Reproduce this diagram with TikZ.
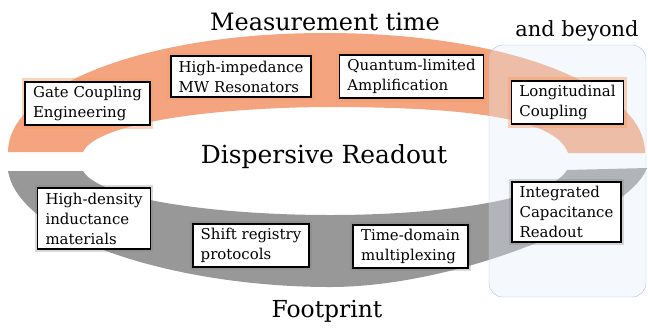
\documentclass[tikz,border=0pt]{standalone}
\usepackage{fontspec}
\setmainfont{DejaVu Serif}
\definecolor{bandorange}{RGB}{244,164,126}
\definecolor{bandgray}{RGB}{152,152,152}
\definecolor{beyondfill}{RGB}{226,236,247}
\definecolor{beyonddraw}{RGB}{180,194,212}
\tikzset{
  topic/.style={draw=black, line width=1.8pt, fill=white, align=left,
    inner xsep=8pt, inner ysep=4.5pt, font=\fontsize{15}{20}\selectfont},
  topglow/.style={topic, preaction={draw=bandorange!80!orange, line width=7pt, opacity=0.45}},
  botglow/.style={topic, preaction={draw=black!50, line width=6pt, opacity=0.3}},
  heading/.style={anchor=base, font=\fontsize{24}{28}\selectfont},
}
\begin{document}
\begin{tikzpicture}[x=1bp,y=-1bp]
 \useasboundingbox (0,0) rectangle (648,329);
 \fill[bandorange](8,152) .. controls (8,130) and (23,105) .. (72,80) .. controls (132,50) and (222,33) .. (325,33) .. controls (430,33) and (520,50) .. (580,80) .. controls (630,105) and (645,130) .. (645,153) -- (568,153) .. controls (555,115) and (450,107) .. (325,107) .. controls (200,108) and (95,125) .. (83,152) -- cycle;
 \fill[bandgray](8,171) -- (83,171) .. controls (100,200) and (220,215) .. (330,215) .. controls (440,215) and (550,200) .. (567,170) -- (647,168) .. controls (630,215) and (460,287) .. (330,287) .. controls (180,287) and (20,240) .. (8,171) -- cycle;
 \draw[beyonddraw,fill=beyondfill,fill opacity=0.35,rounded corners=14pt](489,45) rectangle (646,297);
 \node[heading] (meas) at (325,30) {Measurement time};
 \node[heading,font=\fontsize{21}{24}\selectfont] (beyond) at (577,36) {and beyond};
 \node[heading,font=\fontsize{25}{28}\selectfont] (disp) at (324,163) {Dispersive Readout};
 \node[heading,font=\fontsize{23.5}{28}\selectfont] (foot) at (327,317) {Footprint};
 \node[topglow] (gate) at (87.5,103.5) {Gate Coupling\\Engineering};
 \node[topglow] (mwres) at (241,76.5) {High-impedance\\MW Resonators};
 \node[topglow] (amp) at (411.5,76.5) {Quantum-limited\\Amplification};
 \node[topglow] (longi) at (567.5,102.5) {Longitudinal\\Coupling};
 \node[botglow] (induct) at (94,218.5) {High-density\\inductance\\materials};
 \node[botglow] (shift) at (251,245.5) {Shift registry\\protocols};
 \node[botglow] (tdm) at (410.5,246.5) {Time-domain\\multiplexing};
 \node[botglow] (capro) at (566.5,212) {Integrated\\Capacitance\\Readout};
\end{tikzpicture}
\end{document}
